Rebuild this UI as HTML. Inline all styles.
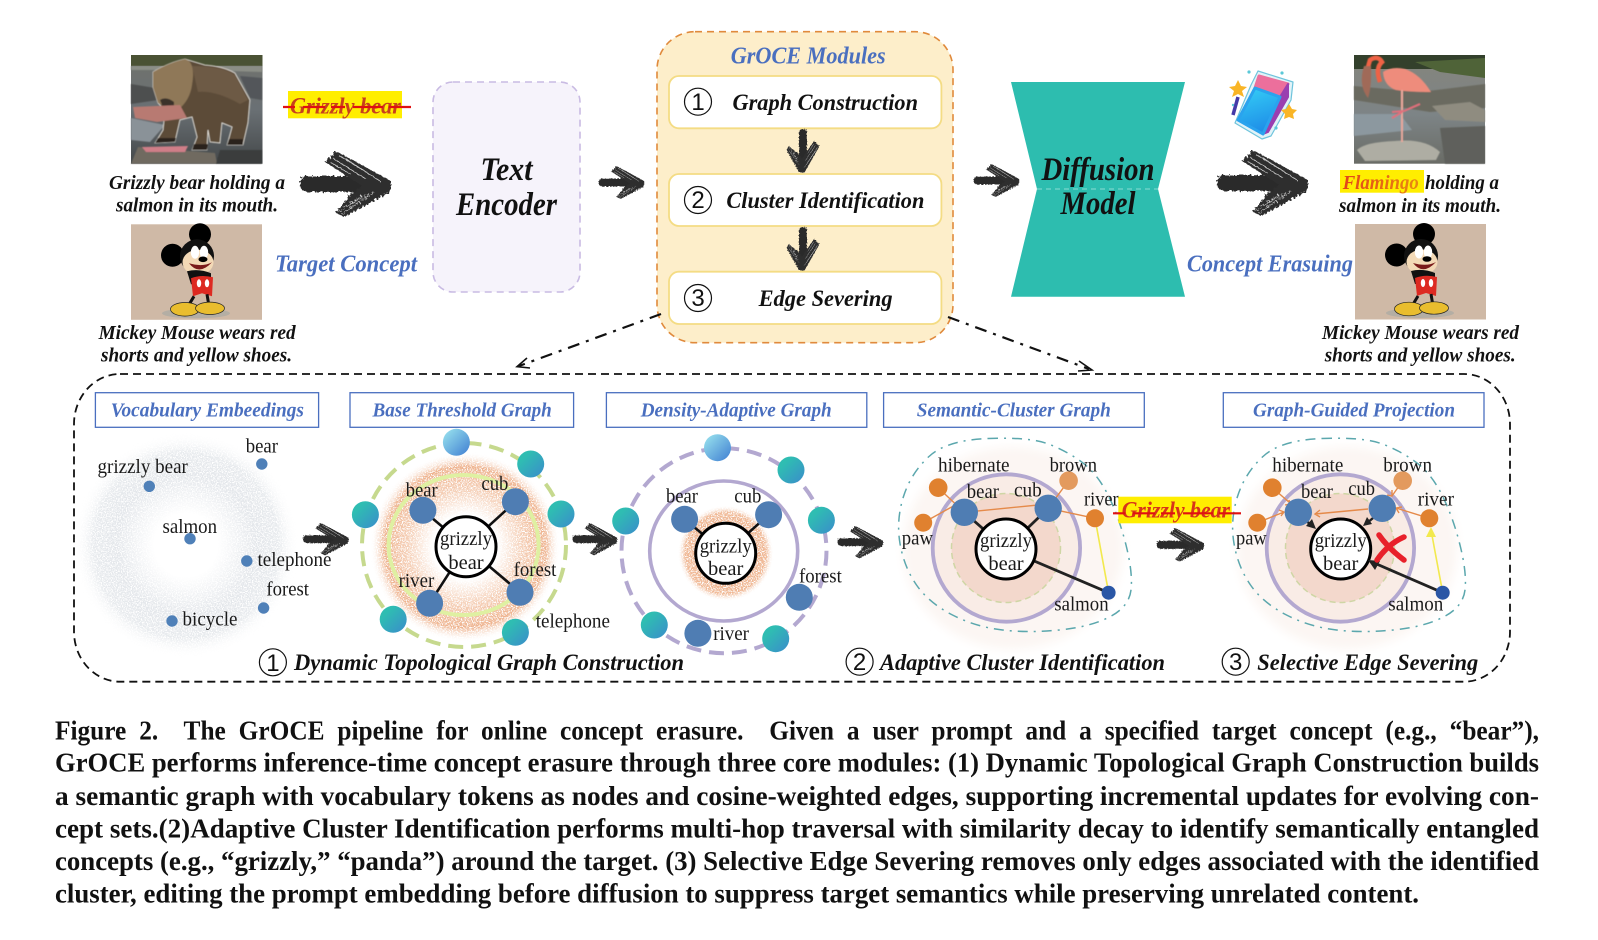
<!DOCTYPE html>
<html><head><meta charset="utf-8"><style>
html,body{margin:0;padding:0;background:#fff}
svg{display:block;font-family:"Liberation Serif",serif}
.bi{font-weight:bold;font-style:italic;fill:#111}
.c{font-size:20px}
.b{font-size:24px;fill:#4a6fbf}
.h{font-size:20.5px;fill:#4a6fbf}
.m{font-size:23.5px}
.s{font-size:23.5px}
.l{font-size:20.5px;fill:#1a1a1a}
.big{font-size:32.5px}
.g{font-weight:bold;font-style:italic;font-size:23px;fill:#c8401c}
.cap{font-weight:bold;font-size:27px;fill:#111}
.n{font-family:"Liberation Sans",sans-serif;font-size:24px;fill:#111;text-anchor:middle}
</style></head><body>
<svg width="1598" height="940" viewBox="0 0 1598 940" xmlns="http://www.w3.org/2000/svg">
<defs>
<linearGradient id="t" x1="0" y1="0" x2="1" y2="1"><stop offset="0.25" stop-color="#2fbdb2"/><stop offset="1" stop-color="#3a8ccb"/></linearGradient>
<linearGradient id="lt" x1="0" y1="0" x2="1" y2="1"><stop offset="0.1" stop-color="#93dcec"/><stop offset="1" stop-color="#3f7ed2"/></linearGradient>
<linearGradient id="er" x1="0" y1="0" x2="0.3" y2="1"><stop offset="0" stop-color="#35d0f6"/><stop offset="1" stop-color="#1f8fe8"/></linearGradient>
<radialGradient id="vr"><stop offset="0.28" stop-color="#fff"/><stop offset="0.62" stop-color="#e4e7eb"/><stop offset="0.82" stop-color="#e8ebee"/><stop offset="1" stop-color="#fff" stop-opacity="0"/></radialGradient>
<radialGradient id="o1"><stop offset="0.34" stop-color="#fff"/><stop offset="0.6" stop-color="#f5d0b8"/><stop offset="0.85" stop-color="#eeb28d"/><stop offset="1" stop-color="#fff" stop-opacity="0"/></radialGradient>
<radialGradient id="o2"><stop offset="0.6" stop-color="#eeb38f"/><stop offset="0.85" stop-color="#f0b996"/><stop offset="1" stop-color="#fff" stop-opacity="0"/></radialGradient>
<linearGradient id="bg1" x1="0" y1="0" x2="0" y2="1"><stop offset="0" stop-color="#70726c"/><stop offset="0.5" stop-color="#6a7074"/><stop offset="1" stop-color="#44484a"/></linearGradient>
<linearGradient id="bg2" x1="0" y1="0" x2="0" y2="1"><stop offset="0" stop-color="#85857c"/><stop offset="0.55" stop-color="#7d8486"/><stop offset="1" stop-color="#6a6c66"/></linearGradient>
<linearGradient id="fl" x1="0" y1="0" x2="1" y2="0"><stop offset="0" stop-color="#e2431a"/><stop offset="1" stop-color="#e98a10"/></linearGradient>
<filter id="bl" x="-10%" y="-10%" width="120%" height="120%"><feGaussianBlur stdDeviation="0.6"/></filter>
<filter id="bl6" x="-10%" y="-10%" width="120%" height="120%"><feGaussianBlur stdDeviation="5"/></filter>
<filter id="gr" x="0" y="0" width="100%" height="100%"><feTurbulence type="fractalNoise" baseFrequency="0.8" numOctaves="2" seed="3"/><feColorMatrix values="0 0 0 0 0 0 0 0 0 0 0 0 0 0 0 0 0 0 -7 4.4"/><feComposite in="SourceGraphic" operator="in"/></filter>
<filter id="rg" x="-10%" y="-10%" width="120%" height="120%"><feTurbulence type="fractalNoise" baseFrequency="0.4" numOctaves="2" seed="5" result="n"/><feDisplacementMap in="SourceGraphic" in2="n" scale="5"/></filter>

<g id="ar" filter="url(#rg)">
 <path d="M8 25 H66 V41 H8 Q0 41 0 33 Q0 25 8 25Z" fill="#2c2c2c"/>
 <path d="M25 11 L36 0 L91 30 L90 41 L70 40Z" fill="#2e2e2e"/>
 <path d="M91 30 L90 41 L44 66 L36 62 L50 44 L66 32Z" fill="#2e2e2e"/>
 <g stroke="#fff" stroke-width="0.8" fill="none" opacity="0.75">
  <path d="M34 8 L66 28M30 11 L52 24M38 4 L74 26M46 8 L80 30M38 61 L62 45M42 63 L74 41M46 56 L66 43"/>
 </g>
</g>
<g id="mk">
 <rect x="0" y="0" width="131" height="95.5" fill="#cfb9a6"/>
 <ellipse cx="65" cy="89" rx="34" ry="5" fill="#b4aea4"/>
 <circle cx="69" cy="10" r="11" fill="#000"/>
 <circle cx="41.5" cy="31" r="11.5" fill="#000"/>
 <ellipse cx="66" cy="32" rx="17" ry="17" fill="#111"/>
 <ellipse cx="67" cy="38" rx="15.5" ry="12.5" fill="#f3d9b6"/>
 <ellipse cx="64" cy="28" rx="4.2" ry="6.5" fill="#fff"/><ellipse cx="73" cy="28" rx="4.2" ry="6.5" fill="#fff"/>
 <ellipse cx="72" cy="35" rx="4.5" ry="2.8" fill="#000"/>
 <path d="M58 39 Q68 52 81 38 Q72 43 58 39Z" fill="#7a1a1a"/>
 <path d="M56 47 Q68 44 80 49 L80 60 L60 60Z" fill="#111"/>
 <path d="M60 54 Q70 50 82 53 L81 72 L71 69 L62 72Z" fill="#dd2a22"/>
 <ellipse cx="68" cy="59" rx="2.2" ry="4" fill="#fff"/><ellipse cx="76" cy="59" rx="2.2" ry="4" fill="#fff"/>
 <path d="M63 72 L57 82M76 70 L78 82" stroke="#111" stroke-width="3"/>
 <ellipse cx="54" cy="85" rx="14.5" ry="6.8" fill="#e9bd2e" stroke="#222" stroke-width="0.7"/>
 <ellipse cx="79" cy="84" rx="14.5" ry="6.2" fill="#e9bd2e" stroke="#222" stroke-width="0.7"/>
</g>
<path id="blob" d="M988,438.5 Q1029,437 1047,443.5 Q1065,450 1081,461.5 Q1097,473 1108,495 Q1119,517 1126,545 Q1133,573 1131,590 Q1129,607 1109.5,617 Q1090,627 1059.5,630 Q1029,633 1002.5,630 Q976,627 952.5,615 Q929,603 916.5,585 Q904,567 900,543.5 Q896,520 903.5,496.5 Q911,473 929,456.5 Q947,440 988,438.5Z" fill="none" stroke="#5ba7ad" stroke-width="1.5" stroke-dasharray="10 6 2 6"/>
<g id="clu">
 <ellipse cx="1013" cy="548" rx="110" ry="101" fill="#fcf6f3" filter="url(#bl6)"/>
 <circle cx="1006.4" cy="548" r="73.7" fill="#f9ece6" stroke="#b3a8d0" stroke-width="3.8"/>
 <circle cx="1006" cy="548" r="54.5" fill="#f3d8cc" stroke="#cfd6a5" stroke-width="1.5" stroke-dasharray="6 4"/>
</g>
</defs>
<rect width="1598" height="940" fill="#fff"/>

<!-- Bear photo -->
<rect x="131" y="55" width="131.5" height="108.7" fill="url(#bg1)"/>
<rect x="131" y="55" width="131.5" height="11" fill="#4a5234"/>
<g filter="url(#bl)">
<path d="M131 66 H262 V72 L200 70 L131 70Z" fill="#8b8e86"/>
<path d="M131 84 L155 88 L158 100 L131 104Z" fill="#4e4f50"/>
<path d="M240 76 L262 78 L262 100 L250 98Z" fill="#53565a"/>
<path d="M131 118 L165 125 L150 142 L131 140Z" fill="#8a9298"/>
<path d="M138 147 L215 153 L217 163.7 L131 163.7Z" fill="#6f6a60"/>
<path d="M220 150 H262 V163.7 H216Z" fill="#3a3d3c"/>
<path d="M153 72 Q170 62 185 59 L205 65 Q222 66 235 73 L250 100 L248 123 L243 145 L227 145 L232 127 L222 123 L220 143 L210 142 L208 130 L207 150 L192 150 L197 137 L192 117 L180 120 L175 142 L155 143 L163 130 L165 110 L158 103 L153 87Z" fill="#5c4b39" stroke="#e6e2da" stroke-width="0.8"/>
<path d="M153 72 Q170 62 185 59 Q196 62 192 85 Q190 100 178 110 L168 108 L158 103 L153 87Z" fill="#8f7858"/>
<path d="M192 66 Q222 66 235 75 L248 100 L240 104 Q215 90 198 92Z" fill="#6d5a44"/>
<path d="M160 100 Q166 96 174 102 L174 110 L164 110Z" fill="#3b332a"/>
<path d="M133 107 L180 105 L187 118 L157 122 L135 118Z" fill="#b87a72"/>
<path d="M142 147 L188 146 L185 152 L146 152Z" fill="#cf7e88"/>
<path d="M155 143 L175 142 L176 138 L158 138Z M192 150 L207 150 L208 144 L194 144Z M227 145 L243 145 L243 139 L229 139Z" fill="#2a241e"/>
</g>
<use href="#mk" transform="translate(131,224.3)"/>

<!-- highlight 1 -->
<rect x="288" y="91" width="114" height="27.3" fill="#ffee00"/>
<text x="290" y="113.3" class="g" textLength="111" lengthAdjust="spacingAndGlyphs">Grizzly bear</text>
<path d="M283 107 H411" stroke="#e01010" stroke-width="2.2" stroke-dasharray="12 8 22 6 14 8 30 6 36"/>

<text x="109" y="189" class="bi c" textLength="176" lengthAdjust="spacingAndGlyphs">Grizzly bear holding a</text>
<text x="116" y="211.7" class="bi c" textLength="162" lengthAdjust="spacingAndGlyphs">salmon in its mouth.</text>
<text x="98.6" y="339" class="bi c" textLength="197" lengthAdjust="spacingAndGlyphs">Mickey Mouse wears red</text>
<text x="101" y="361.7" class="bi c" textLength="191" lengthAdjust="spacingAndGlyphs">shorts and yellow shoes.</text>
<text x="275" y="271.7" class="bi b" textLength="142" lengthAdjust="spacingAndGlyphs">Target Concept</text>

<use href="#ar" transform="translate(300,151)"/>

<!-- Text encoder -->
<rect x="433" y="82" width="147" height="210" rx="20" fill="#f6f3fb" stroke="#c9bbe3" stroke-width="1.6" stroke-dasharray="7 5"/>
<text x="506.5" y="180" class="bi big" text-anchor="middle" textLength="52" lengthAdjust="spacingAndGlyphs">Text</text>
<text x="506.5" y="215" class="bi big" text-anchor="middle" textLength="101" lengthAdjust="spacingAndGlyphs">Encoder</text>

<use href="#ar" transform="translate(598.6,166) scale(0.5,0.5)"/>

<!-- GrOCE -->
<rect x="657" y="31.7" width="296" height="311" rx="38" fill="#fdeeca" stroke="#e08a3c" stroke-width="1.6" stroke-dasharray="7 5"/>
<text x="730.7" y="63.3" class="bi b" textLength="155" lengthAdjust="spacingAndGlyphs">GrOCE Modules</text>
<rect x="669" y="76" width="272.4" height="52.3" rx="10" fill="#fff" stroke="#f4dc84" stroke-width="1.8"/>
<rect x="669" y="174" width="272.4" height="52" rx="10" fill="#fff" stroke="#f4dc84" stroke-width="1.8"/>
<rect x="669" y="271.7" width="272.4" height="52.3" rx="10" fill="#fff" stroke="#f4dc84" stroke-width="1.8"/>
<circle cx="698" cy="101.7" r="13.5" fill="none" stroke="#111" stroke-width="1.2"/><text x="698" y="110" class="n">1</text>
<circle cx="698" cy="200" r="13.5" fill="none" stroke="#111" stroke-width="1.2"/><text x="698" y="208.2" class="n">2</text>
<circle cx="698" cy="298" r="13.5" fill="none" stroke="#111" stroke-width="1.2"/><text x="698" y="306.2" class="n">3</text>
<text x="732.5" y="110" class="bi m" textLength="185.5" lengthAdjust="spacingAndGlyphs">Graph Construction</text>
<text x="726.4" y="208" class="bi m" textLength="198" lengthAdjust="spacingAndGlyphs">Cluster Identification</text>
<text x="758.6" y="306" class="bi m" textLength="134" lengthAdjust="spacingAndGlyphs">Edge Severing</text>
<use href="#ar" transform="translate(819.5,129) rotate(90) scale(0.478,0.5)"/>
<use href="#ar" transform="translate(819.5,227) rotate(90) scale(0.478,0.5)"/>

<use href="#ar" transform="translate(973.6,164) scale(0.5,0.5)"/>

<!-- Diffusion -->
<polygon points="1011,82 1185,82 1158,189 1185,296.7 1011,296.7 1037,189" fill="#2dbdaf"/>
<path d="M1037 189 H1158" stroke="#8adcd3" stroke-width="1" stroke-dasharray="5 4"/>
<text x="1098" y="180" class="bi big" text-anchor="middle" textLength="113" lengthAdjust="spacingAndGlyphs">Diffusion</text>
<text x="1098" y="214" class="bi big" text-anchor="middle" textLength="75" lengthAdjust="spacingAndGlyphs">Model</text>

<!-- eraser -->
<g stroke-linejoin="round">
 <path d="M1258 71 L1293 82 L1291 100 L1271 136 L1262 139 L1235 123 L1251 85Z" fill="#e2f3f8" stroke="#6fc4dc" stroke-width="1.2"/>
 <polygon points="1259,76 1288,84 1280,97 1255,88" fill="#ec6f9c" stroke="#ec6f9c" stroke-width="3"/>
 <polygon points="1288,84 1288,97 1268,132 1263,134 1280,97" fill="#9a3fb0" stroke="#9a3fb0" stroke-width="2"/>
 <polygon points="1255,88 1280,97 1263,134 1238,120" fill="url(#er)" stroke="#2aa3ee" stroke-width="3"/>
 <path d="M1238 97 L1233 115" stroke="#453aa8" stroke-width="3.5"/>
 <polygon points="1238,80 1241,86 1247,87 1242,91 1244,97 1238,94 1232,97 1234,91 1229,87 1235,86" fill="#f9b526"/>
 <polygon points="1289,104 1292,109 1297,110 1293,114 1294,119 1289,117 1284,119 1285,114 1281,110 1286,109" fill="#f9b526"/>
 <g fill="#5ac8d8"><circle cx="1249" cy="72" r="1.6"/><circle cx="1282" cy="73" r="1.6"/><circle cx="1276" cy="128" r="1.6"/><circle cx="1233" cy="105" r="1.2"/></g>
</g>
<use href="#ar" transform="translate(1217,150)"/>

<!-- Flamingo photo -->
<rect x="1354" y="55" width="131" height="108.7" fill="url(#bg2)"/>
<rect x="1354" y="55" width="131" height="14" fill="#33402c"/>
<path d="M1415 62 L1485 58 L1485 78 L1440 72Z" fill="#4f6338"/>
<g filter="url(#bl)">
<path d="M1354 86 L1420 92 L1485 84 L1485 108 L1430 112 L1354 100Z" fill="#6a6a60"/>
<path d="M1432 106 L1470 102 L1485 110 L1485 122 L1445 120Z" fill="#8f8c80"/>
<path d="M1354 114 H1400 L1412 130 L1354 136Z" fill="#8c989f"/>
<path d="M1357 150 Q1365 142 1395 141 Q1425 138 1440 152 L1436 160 L1365 161Z" fill="#aeada3"/>
<path d="M1440 128 L1485 126 V163.7 H1445Z" fill="#5f615b"/>
<path d="M1383 72 Q1392 66 1405 69 Q1420 74 1431 92 Q1410 92 1396 90 Q1384 86 1383 72Z" fill="#ee8c7c"/>
<path d="M1380 82 Q1375 68 1382 62 Q1378 55 1370 60 L1368 67" stroke="#ef6244" stroke-width="4.5" fill="none"/>
<path d="M1364 66 Q1358 85 1368 98 Q1372 85 1371 66Z" fill="#a06a58"/>
<path d="M1402 90 V142" stroke="#e8a79b" stroke-width="2"/>
<path d="M1402 112 L1392 118 M1392 112 L1404 111 L1420 104" stroke="#e0707c" stroke-width="2" fill="none"/>
</g>
<use href="#mk" transform="translate(1355,224)"/>

<rect x="1340" y="170" width="84" height="22.7" fill="#ffee00"/>
<text x="1342.7" y="189" class="bi c" style="fill:url(#fl)" textLength="76" lengthAdjust="spacingAndGlyphs">Flamingo</text>
<text x="1425" y="189" class="bi c" textLength="74" lengthAdjust="spacingAndGlyphs">holding a</text>
<text x="1339" y="212" class="bi c" textLength="162" lengthAdjust="spacingAndGlyphs">salmon in its mouth.</text>
<text x="1322" y="339" class="bi c" textLength="197" lengthAdjust="spacingAndGlyphs">Mickey Mouse wears red</text>
<text x="1324.7" y="361.7" class="bi c" textLength="191" lengthAdjust="spacingAndGlyphs">shorts and yellow shoes.</text>
<text x="1187" y="271.7" class="bi b" textLength="166" lengthAdjust="spacingAndGlyphs">Concept Erasuing</text>

<!-- connectors -->
<path d="M661 314 L519 366" stroke="#111" stroke-width="2.2" fill="none" stroke-dasharray="12 7 3 7"/>
<path d="M527 358 L517 366.7 L530 368" stroke="#111" stroke-width="1.6" fill="none"/>
<path d="M948 317 L1089 369" stroke="#111" stroke-width="2.2" fill="none" stroke-dasharray="12 7 3 7"/>
<path d="M1079 361 L1092 370 L1078 371" stroke="#111" stroke-width="1.6" fill="none"/>

<!-- outer dashed -->
<rect x="74" y="374" width="1436" height="307.7" rx="46" ry="50" fill="none" stroke="#111" stroke-width="1.8" stroke-dasharray="8 5"/>

<!-- headers -->
<g fill="#fff" stroke="#4a6fbf" stroke-width="1.3">
<rect x="95.4" y="392.7" width="223.2" height="34.6"/>
<rect x="350" y="392.7" width="223.6" height="34.6"/>
<rect x="606.4" y="392.7" width="260.4" height="34.6"/>
<rect x="883.6" y="392.7" width="260.7" height="34.6"/>
<rect x="1223.3" y="392.7" width="260.7" height="34.6"/>
</g>
<text x="110.7" y="416.7" class="bi h" textLength="193.3" lengthAdjust="spacingAndGlyphs">Vocabulary Embeedings</text>
<text x="372.5" y="416.7" class="bi h" textLength="179.3" lengthAdjust="spacingAndGlyphs">Base Threshold Graph</text>
<text x="640.7" y="416.7" class="bi h" textLength="191" lengthAdjust="spacingAndGlyphs">Density-Adaptive Graph</text>
<text x="916.8" y="416.7" class="bi h" textLength="194" lengthAdjust="spacingAndGlyphs">Semantic-Cluster Graph</text>
<text x="1253" y="416.7" class="bi h" textLength="202" lengthAdjust="spacingAndGlyphs">Graph-Guided Projection</text>

<!-- Vocabulary -->
<circle cx="186" cy="545" r="113" fill="url(#vr)" filter="url(#gr)"/>
<g fill="#4f80b8">
<circle cx="261.8" cy="464" r="5.7"/><circle cx="149.3" cy="486.3" r="5.7"/><circle cx="190" cy="538.7" r="5.7"/><circle cx="246.8" cy="561" r="5.7"/><circle cx="263.6" cy="608" r="5.7"/><circle cx="172" cy="621" r="5.7"/>
</g>
<text x="245.7" y="452.7" class="l" textLength="32.3" lengthAdjust="spacingAndGlyphs">bear</text>
<text x="97.5" y="473" class="l" textLength="90.4" lengthAdjust="spacingAndGlyphs">grizzly bear</text>
<text x="162.5" y="533" class="l" textLength="54.5" lengthAdjust="spacingAndGlyphs">salmon</text>
<text x="257.5" y="566" class="l" textLength="74" lengthAdjust="spacingAndGlyphs">telephone</text>
<text x="266.4" y="595.7" class="l" textLength="42.6" lengthAdjust="spacingAndGlyphs">forest</text>
<text x="182.5" y="625.7" class="l" textLength="55" lengthAdjust="spacingAndGlyphs">bicycle</text>

<use href="#ar" transform="translate(303,523) scale(0.5,0.49)"/>
<use href="#ar" transform="translate(572.5,523) scale(0.49,0.49)"/>
<use href="#ar" transform="translate(837.5,526) scale(0.5,0.49)"/>
<use href="#ar" transform="translate(1156.7,528) scale(0.52,0.51)"/>

<!-- Base threshold -->
<circle cx="465" cy="547" r="95" fill="url(#o1)" filter="url(#gr)"/>
<ellipse cx="463.6" cy="545" rx="75" ry="70" fill="none" stroke="#dff0a2" stroke-width="4"/>
<circle cx="464" cy="545" r="102" fill="none" stroke="#c6d98e" stroke-width="4" stroke-dasharray="15 8"/>
<g stroke="#111" stroke-width="2.6"><path d="M466 546.7 L422.9 510.3M466 546.7 L515.4 501.7M466 546.7 L429.6 603.3M466 546.7 L520 592.3"/></g>
<circle cx="466" cy="546.7" r="30" fill="#fff" stroke="#000" stroke-width="3"/>
<g fill="url(#t)"><circle cx="530.7" cy="464" r="13.5"/><circle cx="561" cy="514" r="13.5"/><circle cx="365.4" cy="514.7" r="13.5"/><circle cx="393.2" cy="619.3" r="13.5"/><circle cx="515.4" cy="632.3" r="13.5"/></g>
<circle cx="456.4" cy="442.3" r="13.5" fill="url(#lt)"/>
<g fill="#4f7db3"><circle cx="422.9" cy="510.3" r="13.5"/><circle cx="515.4" cy="501.7" r="13.5"/><circle cx="429.6" cy="603.3" r="13.5"/><circle cx="520" cy="592.3" r="13.5"/></g>
<text x="466" y="545" class="l" text-anchor="middle" textLength="52" lengthAdjust="spacingAndGlyphs">grizzly</text>
<text x="466" y="569" class="l" text-anchor="middle">bear</text>
<text x="405.7" y="496.7" class="l" textLength="32" lengthAdjust="spacingAndGlyphs">bear</text>
<text x="481.4" y="490" class="l" textLength="27" lengthAdjust="spacingAndGlyphs">cub</text>
<text x="398.6" y="587" class="l" textLength="35.7" lengthAdjust="spacingAndGlyphs">river</text>
<text x="513.6" y="576" class="l" textLength="42.8" lengthAdjust="spacingAndGlyphs">forest</text>
<text x="535.7" y="627.7" class="l" textLength="74.3" lengthAdjust="spacingAndGlyphs">telephone</text>

<!-- Density -->
<circle cx="725.7" cy="553.3" r="48" fill="url(#o2)" filter="url(#gr)"/>
<ellipse cx="723.7" cy="551" rx="74" ry="70" fill="none" stroke="#b3a8d0" stroke-width="3.6"/>
<circle cx="724" cy="550.7" r="102.5" fill="none" stroke="#b3a8d0" stroke-width="4" stroke-dasharray="15 8"/>
<g stroke="#111" stroke-width="2.6"><path d="M725.7 553.3 L684.6 519.3M725.7 553.3 L768.6 514.7"/></g>
<circle cx="725.7" cy="553.3" r="30" fill="#fff" stroke="#000" stroke-width="3"/>
<g fill="url(#t)"><circle cx="791" cy="470" r="13.5"/><circle cx="821.4" cy="520.3" r="13.5"/><circle cx="625.7" cy="521" r="13.5"/><circle cx="654.3" cy="625" r="13.5"/><circle cx="775.7" cy="638.7" r="13.5"/></g>
<circle cx="717.5" cy="447.7" r="13.5" fill="url(#lt)"/>
<g fill="#4f7db3"><circle cx="684.6" cy="519.3" r="13.5"/><circle cx="768.6" cy="514.7" r="13.5"/><circle cx="799.3" cy="597.3" r="13.5"/><circle cx="697.9" cy="633.3" r="13.5"/></g>
<text x="725.7" y="552.3" class="l" text-anchor="middle" textLength="52" lengthAdjust="spacingAndGlyphs">grizzly</text>
<text x="725.7" y="575" class="l" text-anchor="middle">bear</text>
<text x="666" y="502.7" class="l" textLength="32" lengthAdjust="spacingAndGlyphs">bear</text>
<text x="734.3" y="502.7" class="l" textLength="27" lengthAdjust="spacingAndGlyphs">cub</text>
<text x="799" y="582.7" class="l" textLength="42.8" lengthAdjust="spacingAndGlyphs">forest</text>
<text x="713.2" y="640" class="l" textLength="35.8" lengthAdjust="spacingAndGlyphs">river</text>

<!-- Semantic -->
<use href="#clu"/>
<use href="#blob"/>
<g stroke="#e58a4a" stroke-width="1.4" fill="none"><path d="M938.2 487.7 L964.3 512.3M923.2 522.7 L964.3 500M964.3 512.3 L1048.2 504M1068.6 480.7 L1048.2 508.3M1048.2 508.3 L1095 518.3"/></g>
<path d="M1095 518.3 L1108.6 592.7" stroke="#f2e94e" stroke-width="1.6"/>
<g stroke="#222" stroke-width="2.8"><path d="M1006 549 L964.3 512.3M1006 549 L1048.2 508.3M1006 549 L1108.6 592.7"/></g>
<circle cx="1006" cy="549" r="30" fill="#fff" stroke="#000" stroke-width="3"/>
<g fill="#e0812f"><circle cx="938.2" cy="487.7" r="9.3"/><circle cx="923.2" cy="522.7" r="9"/><circle cx="1095" cy="518.3" r="9"/></g>
<circle cx="1068.6" cy="480.7" r="9.3" fill="#e39a5e"/>
<g fill="#4f7db3"><circle cx="964.3" cy="512.3" r="13.7"/><circle cx="1048.2" cy="508.3" r="13.7"/></g>
<circle cx="1108.6" cy="592.7" r="7" fill="#2a56a5"/>
<text x="1006" y="547" class="l" text-anchor="middle" textLength="52" lengthAdjust="spacingAndGlyphs">grizzly</text>
<text x="1006" y="570" class="l" text-anchor="middle">bear</text>
<text x="938" y="471.7" class="l" textLength="71.6" lengthAdjust="spacingAndGlyphs">hibernate</text>
<text x="1049.6" y="471.7" class="l" textLength="47.4" lengthAdjust="spacingAndGlyphs">brown</text>
<text x="966.8" y="498" class="l" textLength="32.2" lengthAdjust="spacingAndGlyphs">bear</text>
<text x="1014" y="496.7" class="l" textLength="27.8" lengthAdjust="spacingAndGlyphs">cub</text>
<text x="1084" y="505.7" class="l" textLength="34.6" lengthAdjust="spacingAndGlyphs">river</text>
<text x="901.8" y="544.3" class="l" textLength="31.2" lengthAdjust="spacingAndGlyphs">paw</text>
<text x="1054.3" y="610.7" class="l" textLength="54.3" lengthAdjust="spacingAndGlyphs">salmon</text>

<!-- Graph guided -->
<use href="#clu" transform="translate(334,0)"/>
<use href="#blob" transform="translate(334,0)"/>
<g stroke="#e58a4a" stroke-width="1.4" fill="none"><path d="M1272.3 487.7 L1290 503M1285 505 l5 -1 l-1 -4M1257.3 522.7 L1284 512M1279 510 l5 2 l-3 4M1368 509 L1315 514M1320 510 l-5 4 l5 3M1402.7 480.7 L1392 496M1392 490 l0 6 l-5 -1M1429.3 518.3 L1396 508M1402 507 l-6 1 l3 5"/></g>
<path d="M1442.7 592.7 L1431 530" stroke="#f2e94e" stroke-width="1.6"/>
<path d="M1426 537 L1431 527 L1436 537Z" fill="#f2e94e"/>
<circle cx="1340.7" cy="549" r="30" fill="#fff" stroke="#000" stroke-width="3"/>
<path d="M1442.7 592.7 L1372 562" stroke="#222" stroke-width="2.8"/>
<path d="M1368 560 L1380 561 L1375 570Z" fill="#222"/>
<path d="M1306 521 L1313 526" stroke="#222" stroke-width="2.4"/><path d="M1316 529 L1306 526 L1312 519Z" fill="#222"/>
<path d="M1373 518 L1366 524" stroke="#222" stroke-width="2.4"/><path d="M1363 526 L1372 524 L1367 517Z" fill="#222"/>
<g fill="#e0812f"><circle cx="1272.3" cy="487.7" r="9.3"/><circle cx="1257.3" cy="522.7" r="9"/><circle cx="1429.3" cy="518.3" r="9"/></g>
<circle cx="1402.7" cy="480.7" r="9.3" fill="#e39a5e"/>
<g fill="#4f7db3"><circle cx="1298.3" cy="512.3" r="13.7"/><circle cx="1382.3" cy="508.3" r="13.7"/></g>
<circle cx="1442.7" cy="592.7" r="7" fill="#2a56a5"/>
<path d="M1379 535 Q1388 548 1404 560M1404 537 Q1388 544 1377 560" stroke="#e8202a" stroke-width="5.5" fill="none" stroke-linecap="round"/>
<text x="1340.7" y="547" class="l" text-anchor="middle" textLength="52" lengthAdjust="spacingAndGlyphs">grizzly</text>
<text x="1340.7" y="570" class="l" text-anchor="middle">bear</text>
<text x="1272.3" y="471.7" class="l" textLength="71" lengthAdjust="spacingAndGlyphs">hibernate</text>
<text x="1383.3" y="471.7" class="l" textLength="48.7" lengthAdjust="spacingAndGlyphs">brown</text>
<text x="1301" y="498" class="l" textLength="32" lengthAdjust="spacingAndGlyphs">bear</text>
<text x="1348.3" y="495" class="l" textLength="26.7" lengthAdjust="spacingAndGlyphs">cub</text>
<text x="1417.7" y="505.7" class="l" textLength="36.3" lengthAdjust="spacingAndGlyphs">river</text>
<text x="1236" y="544.3" class="l" textLength="30.7" lengthAdjust="spacingAndGlyphs">paw</text>
<text x="1388.3" y="610.7" class="l" textLength="55" lengthAdjust="spacingAndGlyphs">salmon</text>

<!-- highlight 2 -->
<rect x="1118.3" y="496.7" width="113.4" height="26.6" fill="#ffee00"/>
<text x="1121.7" y="517.7" class="g" style="fill:#d8331a" textLength="108.3" lengthAdjust="spacingAndGlyphs">Grizzly bear</text>
<path d="M1113 513.3 H1241" stroke="#e01010" stroke-width="2.2" stroke-dasharray="12 8 22 6 14 8 30 6 36"/>

<!-- Section titles -->
<circle cx="272.9" cy="662.3" r="13.5" fill="none" stroke="#111" stroke-width="1.2"/><text x="272.9" y="670.8" class="n">1</text>
<text x="294" y="670" class="bi s" textLength="390" lengthAdjust="spacingAndGlyphs">Dynamic Topological Graph Construction</text>
<circle cx="859.6" cy="661.7" r="13.5" fill="none" stroke="#111" stroke-width="1.2"/><text x="859.6" y="670.2" class="n">2</text>
<text x="880" y="670" class="bi s" textLength="285" lengthAdjust="spacingAndGlyphs">Adaptive Cluster Identification</text>
<circle cx="1235.7" cy="661.7" r="13.5" fill="none" stroke="#111" stroke-width="1.2"/><text x="1235.7" y="670.2" class="n">3</text>
<text x="1257.3" y="670" class="bi s" textLength="221" lengthAdjust="spacingAndGlyphs">Selective Edge Severing</text>

<!-- Caption -->
<text x="55" y="739.3" class="cap" word-spacing="7" textLength="1484" lengthAdjust="spacingAndGlyphs">Figure 2.&#160; The GrOCE pipeline for online concept erasure.&#160; Given a user prompt and a specified target concept (e.g., “bear”),</text>
<text x="55" y="771.7" class="cap" textLength="1484" lengthAdjust="spacingAndGlyphs">GrOCE performs inference-time concept erasure through three core modules: (1) Dynamic Topological Graph Construction builds</text>
<text x="55" y="805" class="cap" textLength="1484" lengthAdjust="spacingAndGlyphs">a semantic graph with vocabulary tokens as nodes and cosine-weighted edges, supporting incremental updates for evolving con-</text>
<text x="55" y="837.3" class="cap" textLength="1484" lengthAdjust="spacingAndGlyphs">cept sets.(2)Adaptive Cluster Identification performs multi-hop traversal with similarity decay to identify semantically entangled</text>
<text x="55" y="870" class="cap" textLength="1484" lengthAdjust="spacingAndGlyphs">concepts (e.g., “grizzly,” “panda”) around the target. (3) Selective Edge Severing removes only edges associated with the identified</text>
<text x="55" y="902.7" class="cap" textLength="1364" lengthAdjust="spacingAndGlyphs">cluster, editing the prompt embedding before diffusion to suppress target semantics while preserving unrelated content.</text>
</svg>
</body></html>
